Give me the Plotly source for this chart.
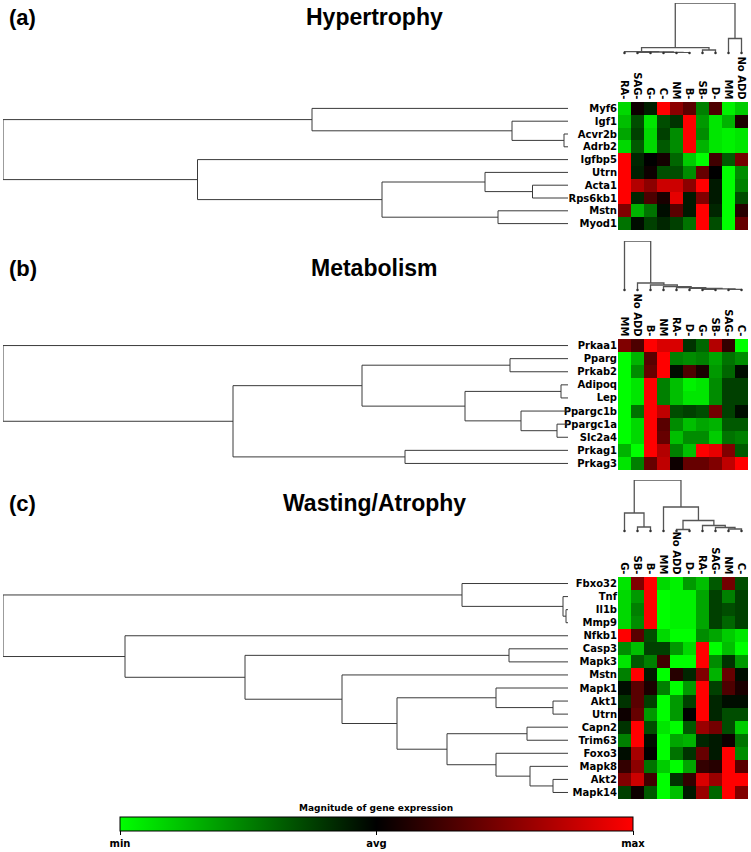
import plotly.graph_objects as go

W, H = 751, 852

# ---------------- data ----------------
genes_a = ["Myf6", "Igf1", "Acvr2b", "Adrb2", "Igfbp5", "Utrn", "Acta1", "Rps6kb1", "Mstn", "Myod1"]
conds_a = ["RA-", "SAG-", "G-", "C-", "NM", "B-", "SB-", "D-", "MM", "No ADD"]
values_a = [
    [-0.85, 0.05, -0.12, 1.00, 0.55, 0.35, -0.50, 0.30, -0.95, -0.80],
    [-0.75, -0.30, -0.90, -0.30, -0.20, 1.00, -0.60, -0.90, -0.70, 0.10],
    [-0.65, -0.25, -0.85, -0.25, -0.55, 1.00, -0.55, -0.90, -0.95, -0.90],
    [-0.85, -0.35, -0.85, -0.35, -0.55, 1.00, -0.70, -0.90, -0.95, -0.90],
    [1.00, -0.15, 0.00, 0.08, -0.40, -0.80, -1.00, 0.25, -0.35, 0.45],
    [1.00, -0.12, 0.05, -0.30, -0.30, -0.55, 0.40, 0.00, -1.00, -0.55],
    [1.00, 0.70, 0.55, 0.80, 0.80, 0.55, 1.00, -0.10, -1.00, -0.50],
    [1.00, -0.15, 0.30, 0.10, 0.90, -0.10, 0.50, -0.10, -1.00, -0.30],
    [0.50, -0.70, -0.45, -0.05, 0.35, -0.10, 1.00, -0.15, -1.00, 0.15],
    [-0.45, -0.05, -0.25, -0.15, -0.25, -0.45, 1.00, -0.30, -1.00, 0.40],
]
# trees: (merge height, left, right); ints are leaf indices in display order
row_tree_a = (565, (256, 0, (56, 1, (4, 2, 3))),
              (370.5, 4, (186, (83, 5, (35.5, 6, 7)), (70, 8, 9))))
col_tree_a = (50, (5.3, (1.3, 0, (1.0, (0.5, 1, 2), (0.7, 3, (0.3, 4, 5)))), (3, 6, 7)),
              (14.5, 8, 9))

genes_b = ["Prkaa1", "Pparg", "Prkab2", "Adipoq", "Lep", "Ppargc1b", "Ppargc1a", "Slc2a4", "Prkag1", "Prkag3"]
conds_b = ["MM", "No ADD", "B-", "NM", "RA-", "D-", "G-", "SB-", "SAG-", "C-"]
values_b = [
    [0.50, 0.30, 1.00, 0.85, 0.85, -0.20, -0.40, 0.70, 0.20, -1.00],
    [-1.00, -0.70, 0.35, 1.00, -0.50, -0.55, -0.50, -0.65, -0.45, -0.55],
    [-1.00, -0.55, 0.40, 1.00, -0.05, 0.30, 0.10, -0.60, -0.40, -0.05],
    [-1.00, -0.90, 1.00, -0.50, -0.75, -0.95, -0.90, -0.55, -0.25, -0.25],
    [-1.00, -0.90, 1.00, -0.50, -0.75, -0.90, -0.90, -0.55, -0.25, -0.25],
    [-1.00, -0.45, 1.00, 0.75, -0.30, -0.25, -0.30, 0.45, -0.25, -0.05],
    [-1.00, -0.85, 1.00, 0.35, -0.55, -0.75, -0.65, -0.70, -0.35, -0.35],
    [-1.00, -0.85, 1.00, 0.40, -0.75, -0.55, -0.55, -0.80, -0.45, -0.50],
    [-0.70, -1.00, 1.00, 0.70, -0.50, -0.75, 1.00, 0.90, 0.50, -0.35],
    [-0.90, -0.50, 0.40, 0.75, 0.05, 0.40, 0.40, 0.50, 0.75, 1.00],
]
row_tree_b = (565, 0, (335, (206, (58, 1, 2), (103, (7, 3, 4), (47, 5, (11, 6, 7)))),
                      (163, 8, 9)))
col_tree_b = (49, 0, (7, 1, (5, 2, (3.3, 3, (2.3, 4, (1.6, 5, (1.1, (0.5, 6, 7), (0.7, 8, 9))))))))

genes_c = ["Fbxo32", "Tnf", "Il1b", "Mmp9", "Nfkb1", "Casp3", "Mapk3", "Mstn", "Mapk1", "Akt1",
           "Utrn", "Capn2", "Trim63", "Foxo3", "Mapk8", "Akt2", "Mapk14"]
conds_c = ["G-", "SB-", "B-", "MM", "No ADD", "D-", "RA-", "SAG-", "NM", "C-"]
values_c = [
    [-0.90, 0.50, 1.00, -0.85, -0.95, -0.60, -0.75, -0.35, 0.45, -0.30],
    [-0.85, -0.60, 1.00, -1.00, -0.95, -0.95, -0.65, -0.25, -0.50, -0.25],
    [-0.85, -0.50, 1.00, -1.00, -0.95, -0.95, -0.65, -0.25, -0.30, -0.25],
    [-0.85, -0.55, 1.00, -1.00, -0.95, -0.95, -0.65, -0.25, -0.40, -0.25],
    [1.00, 0.35, -0.30, -0.85, -1.00, -1.00, -0.55, -0.65, -0.80, -0.90],
    [-0.55, -0.75, -0.25, -0.25, -0.60, -0.85, 1.00, -1.00, -0.75, -1.00],
    [-0.90, -0.35, -0.50, 0.25, -1.00, -1.00, 1.00, -0.55, -0.20, -0.60],
    [-0.50, 1.00, -0.10, -1.00, 0.15, -0.15, 0.50, -0.70, 0.40, -0.05],
    [-0.05, 0.35, 0.10, -0.50, -1.00, -0.60, 1.00, -0.25, 0.30, 0.10],
    [-0.20, 0.35, -0.25, -1.00, -0.60, -0.25, 1.00, -0.15, -0.05, -0.05],
    [0.05, 0.40, -0.60, -1.00, -0.60, 0.00, 1.00, -0.15, -0.30, -0.30],
    [-0.20, 1.00, -0.30, -0.90, -1.00, -0.35, 0.60, 0.45, -0.30, -0.80],
    [-0.50, 1.00, -0.05, -1.00, -0.65, -0.70, -0.15, -0.10, 0.05, -0.45],
    [-0.05, 0.65, 0.00, -1.00, -0.45, -0.20, 0.40, -0.10, 1.00, -0.55],
    [0.20, 0.55, -0.45, -0.80, -1.00, -0.65, 0.20, 0.15, 1.00, 0.35],
    [0.50, 0.80, 0.25, -1.00, -0.20, 0.20, 0.85, 0.60, 1.00, 1.00],
    [-0.25, 0.05, -0.35, -1.00, -0.75, -0.10, 0.60, -0.40, 1.00, 0.50],
]
row_tree_c = (565, (106, 0, (5, 1, (2, 2, 3))),
              (443, 4, (323, (59, 5, 6),
                        (226, 7, (171, (72, 8, (15, 9, 10)),
                                  (121, (41, 11, 12), (72, 13, (38, 14, (15, 15, 16)))))))))
col_tree_c = (51, (18, 0, (4, 1, 2)),
              (24, 3, (10.5, (1.5, 4, 5), (5.5, 6, (3.5, 7, (2, 8, 9))))))

scale_ticks = ["min", "avg", "max"]
scale_title = "Magnitude of gene expression"
titles = ["Hypertrophy", "Metabolism", "Wasting/Atrophy"]
tags = ["(a)", "(b)", "(c)"]

# ---------------- helpers ----------------
def tree_segments(node, segs):
    if isinstance(node, int):
        return float(node), 0.0
    h, l, r = node
    pl, hl = tree_segments(l, segs)
    pr, hr = tree_segments(r, segs)
    segs.append(((pl, hl), (pl, h), (pr, h), (pr, hr)))
    return (pl + pr) / 2.0, float(h)


def dx(a, b):
    return [a / W, b / W]


def dy(top, bottom):
    return [1 - bottom / H, 1 - top / H]


def ax_name(kind, k):
    return kind + "axis" + ("" if k == 1 else str(k))


def ax_ref(kind, k):
    return kind + ("" if k == 1 else str(k))


GREEN_BLACK_RED = [[0.0, "#00FF00"], [0.5, "#000000"], [1.0, "#FF0000"]]
LABEL_FONT = dict(family="DejaVu Sans", size=10, color="black")

panels = [
    dict(genes=genes_a, conds=conds_a, vals=values_a, rtree=row_tree_a, ctree=col_tree_a,
         hm=(102, 230), cd=(3, 53), ty=17),
    dict(genes=genes_b, conds=conds_b, vals=values_b, rtree=row_tree_b, ctree=col_tree_b,
         hm=(339, 470), cd=(241, 290), ty=268),
    dict(genes=genes_c, conds=conds_c, vals=values_c, rtree=row_tree_c, ctree=col_tree_c,
         hm=(577, 799), cd=(480, 531), ty=503),
]

HM_X = (618, 748)
RD_X = (3, 568)

fig = go.Figure()
layout = {}
annotations = []

for p, P in enumerate(panels):
    kh, kr, kc = 3 * p + 1, 3 * p + 2, 3 * p + 3
    n = len(P["genes"])
    m = len(P["conds"])

    # heatmap
    hm = go.Heatmap(
        z=P["vals"], x=list(range(m)), y=list(range(n)),
        zmin=-1, zmax=1, colorscale=GREEN_BLACK_RED,
        xaxis=ax_ref("x", kh), yaxis=ax_ref("y", kh),
        showscale=(p == 0), hoverinfo="skip",
    )
    if p == 0:
        hm.colorbar = dict(
            orientation="h", x=120 / W, xanchor="left", y=1 - 817 / H, yanchor="top",
            len=513, lenmode="pixels", thickness=14, thicknessmode="pixels",
            outlinewidth=1, outlinecolor="black", xpad=0, ypad=0,
            tickvals=[-1, 0, 1], ticktext=["<b>%s</b>" % t for t in scale_ticks],
            ticks="outside", ticklen=4, tickcolor="black", tickwidth=1,
            tickfont=dict(family="DejaVu Sans", size=10, color="black"),
        )
    fig.add_trace(hm)
    layout[ax_name("x", kh)] = dict(
        domain=dx(*HM_X), range=[-0.5, m - 0.5], side="top", anchor=ax_ref("y", kh),
        tickvals=list(range(m)), ticktext=["<b>%s</b>" % c for c in P["conds"]],
        tickangle=90, ticks="", showgrid=False, zeroline=False, showline=False,
        tickfont=LABEL_FONT, fixedrange=True)
    layout[ax_name("y", kh)] = dict(
        domain=dy(*P["hm"]), range=[n - 0.5, -0.5], anchor=ax_ref("x", kh),
        tickvals=list(range(n)), ticktext=["<b>%s</b>" % g for g in P["genes"]],
        ticks="", showgrid=False, zeroline=False, showline=False,
        tickfont=LABEL_FONT, fixedrange=True)

    # row dendrogram
    segs = []
    tree_segments(P["rtree"], segs)
    xs, ys = [], []
    for s in segs:
        for (pos, h) in s:
            xs.append(h)
            ys.append(pos)
        xs.append(None)
        ys.append(None)
    fig.add_trace(go.Scatter(x=xs, y=ys, mode="lines", line=dict(color="#3a3a3a", width=1),
                             xaxis=ax_ref("x", kr), yaxis=ax_ref("y", kr),
                             hoverinfo="skip", showlegend=False, cliponaxis=False))
    layout[ax_name("x", kr)] = dict(domain=dx(*RD_X), range=[P["rtree"][0], 0],
                                    visible=False, anchor=ax_ref("y", kr), fixedrange=True)
    layout[ax_name("y", kr)] = dict(domain=dy(*P["hm"]), range=[n - 0.5, -0.5],
                                    visible=False, anchor=ax_ref("x", kr), fixedrange=True)

    # column dendrogram
    segs = []
    tree_segments(P["ctree"], segs)
    xs, ys = [], []
    for s in segs:
        for (pos, h) in s:
            xs.append(pos)
            ys.append(h)
        xs.append(None)
        ys.append(None)
    fig.add_trace(go.Scatter(x=xs, y=ys, mode="lines", line=dict(color="#555555", width=1.3),
                             xaxis=ax_ref("x", kc), yaxis=ax_ref("y", kc),
                             hoverinfo="skip", showlegend=False, cliponaxis=False))
    fig.add_trace(go.Scatter(x=list(range(m)), y=[0] * m, mode="markers",
                             marker=dict(color="#333333", size=2.5),
                             xaxis=ax_ref("x", kc), yaxis=ax_ref("y", kc),
                             hoverinfo="skip", showlegend=False, cliponaxis=False))
    layout[ax_name("x", kc)] = dict(domain=dx(*HM_X), range=[-0.5, m - 0.5],
                                    visible=False, anchor=ax_ref("y", kc), fixedrange=True)
    layout[ax_name("y", kc)] = dict(domain=dy(*P["cd"]), range=[0, P["ctree"][0]],
                                    visible=False, anchor=ax_ref("x", kc), fixedrange=True)

    # titles
    annotations.append(dict(text="<b>%s</b>" % tags[p], x=7 / W, y=1 - P["ty"] / H,
                            xref="paper", yref="paper", xanchor="left", yanchor="middle",
                            showarrow=False,
                            font=dict(family="Liberation Sans, Arial", size=22, color="black")))
    annotations.append(dict(text="<b>%s</b>" % titles[p], x=374 / W, y=1 - P["ty"] / H,
                            xref="paper", yref="paper", xanchor="center", yanchor="middle",
                            showarrow=False,
                            font=dict(family="Liberation Sans, Arial", size=23, color="black")))

# colour-scale title
annotations.append(dict(text="<b>%s</b>" % scale_title, x=376 / W, y=1 - 808 / H,
                        xref="paper", yref="paper", xanchor="center", yanchor="middle",
                        showarrow=False,
                        font=dict(family="DejaVu Sans", size=9, color="black")))

fig.update_layout(
    width=W, height=H, margin=dict(l=0, r=0, t=0, b=0),
    paper_bgcolor="white", plot_bgcolor="white",
    showlegend=False, annotations=annotations, **layout,
)

fig.write_html("out.html",
               config={"displayModeBar": False, "staticPlot": True},
               post_script="document.body.style.margin='0';document.body.style.overflow='hidden';")
